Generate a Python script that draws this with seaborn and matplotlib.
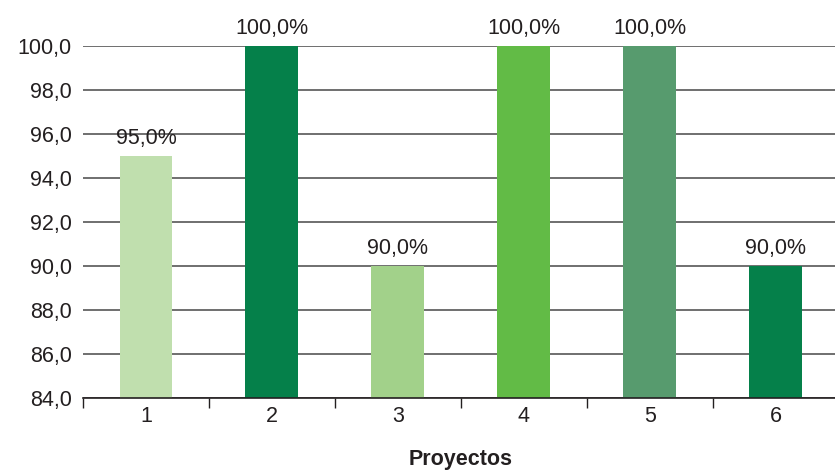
import numpy as np
import pandas as pd
import seaborn as sns
import matplotlib.pyplot as plt
from matplotlib.ticker import FixedLocator

proyectos = ["1", "2", "3", "4", "5", "6"]
valores = [95.0, 100.0, 90.0, 100.0, 100.0, 90.0]
colores = ["#C0DFAE", "#05804A", "#A2D18A", "#62BB46", "#579B6E", "#05804A"]
yticks = [84, 86, 88, 90, 92, 94, 96, 98, 100]

sns.set_style("white")
plt.rcParams['font.family'] = ['Liberation Sans', 'DejaVu Sans']

df = pd.DataFrame({"proyecto": proyectos, "valor": valores})

fig = plt.figure(figsize=(8.35, 4.72), dpi=100)
ax = fig.add_axes([0.0994, 0.157, 0.905, 0.7455])
sns.barplot(data=df, x="proyecto", y="valor", hue="proyecto", palette=colores,
            legend=False, width=0.42, saturation=1, linewidth=0, ax=ax)

ax.set_ylim(84, 100)
ax.set_xlim(-0.5, 5.5)
ax.set_yticks(yticks)
ax.set_yticklabels([f"{v:.1f}".replace(".", ",") for v in yticks], fontsize=15.5, color="#231F20")
ax.yaxis.grid(True, color="#6F6F6F", linewidth=1.4)
ax.set_axisbelow(True)
ax.tick_params(axis="y", length=0, pad=8)
ax.tick_params(axis="x", which="major", bottom=False, labelsize=15.5, labelcolor="#231F20", pad=2)
ax.xaxis.set_minor_locator(FixedLocator(np.arange(-0.5, 6, 1)))
ax.tick_params(axis="x", which="minor", bottom=True, length=7, width=1, color="#231F20", direction="out")

for s in ["left", "right", "top"]:
    ax.spines[s].set_visible(False)
ax.spines["bottom"].set_color("#231F20")
ax.spines["bottom"].set_linewidth(1.2)

for i, v in enumerate(valores):
    ax.text(i, v + 0.3, f"{v:.1f}".replace(".", ",") + "%", ha="center", va="bottom",
            fontsize=15.5, color="#231F20", clip_on=False)

ax.set_ylabel("")
ax.set_xlabel("Proyectos", fontsize=15.5, fontweight="bold", color="#231F20", labelpad=16)

fig.savefig("out.png", dpi=100)
plt.close()
